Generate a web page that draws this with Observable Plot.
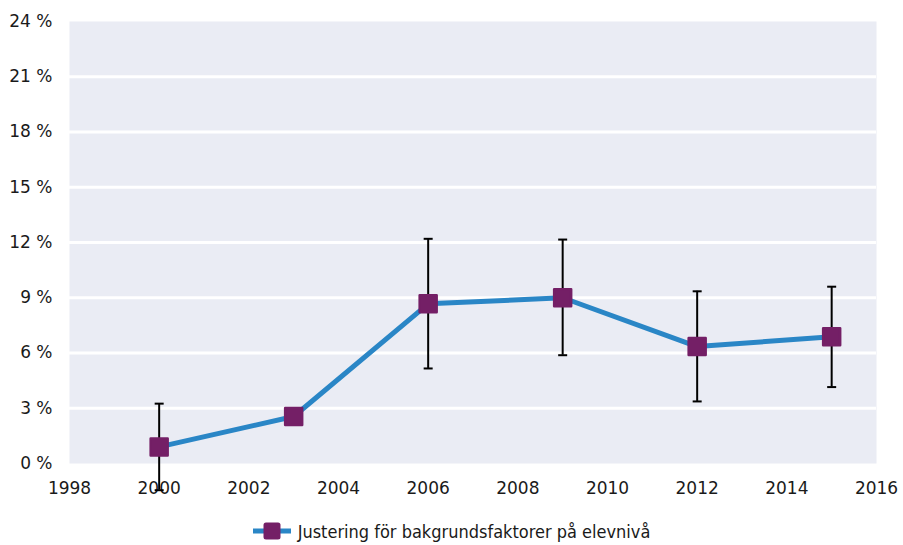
<!DOCTYPE html>
<html>
<head>
<meta charset="utf-8">
<script src="https://cdn.jsdelivr.net/npm/d3@7"></script>
<script src="https://cdn.jsdelivr.net/npm/@observablehq/plot@0.6"></script>
<style>
  html, body { margin: 0; padding: 0; background: #fff; }
  #chart { width: 903px; height: 505px; }
  .legend {
    display: flex; justify-content: center; align-items: center;
    height: 52px; font-family: "DejaVu Sans Condensed", "DejaVu Sans", sans-serif;
    font-size: 18px; color: #1a1a1a;
  }
  .legend svg { margin-right: 7px; }
</style>
</head>
<body>
<div id="chart"></div>
<script>
// Survey years and adjusted estimates (percent)
const years = [2000, 2003, 2006, 2009, 2012, 2015];
const estimate = [0.9, 2.55, 8.67, 9.0, 6.35, 6.88];
// Confidence interval bounds (percent); 2003 has none
const lower = [-1.45, null, 5.16, 5.88, 3.37, 4.15];
const upper = [3.25, null, 12.2, 12.16, 9.35, 9.6];
const yTicks = [0, 3, 6, 9, 12, 15, 18, 21, 24];
const xTicks = [1998, 2000, 2002, 2004, 2006, 2008, 2010, 2012, 2014, 2016];
const seriesName = "Justering för bakgrundsfaktorer på elevnivå";

const lineColor = "#2a86c6";
const markColor = "#741f66";

const rows = years.map((year, i) => ({year, value: estimate[i], lo: lower[i], hi: upper[i]}));
const bars = rows.filter(d => d.lo != null);

// horizontal cap used at each end of an error bar
const capSymbol = {
  draw(context, size) {
    const w = 4.5;
    context.moveTo(-w, 0);
    context.lineTo(w, 0);
  }
};

const chart = Plot.plot({
  width: 903,
  height: 505,
  marginTop: 21,
  marginBottom: 42,
  marginLeft: 69,
  marginRight: 27,
  style: {fontFamily: "'DejaVu Sans', sans-serif", fontSize: "17px", color: "#1a1a1a", background: "#fff"},
  x: {domain: [1998, 2016], ticks: xTicks, tickFormat: d => String(d), tickSize: 0, tickPadding: 18, label: null},
  y: {domain: [0, 24], ticks: yTicks, tickFormat: d => d + " %", tickSize: 0, tickPadding: 17, label: null},
  marks: [
    Plot.frame({fill: "#eaecf4", stroke: null}),
    Plot.ruleY(yTicks.filter(t => t > 0 && t < 24), {stroke: "#fff", strokeWidth: 3}),
    Plot.line(rows, {x: "year", y: "value", stroke: lineColor, strokeWidth: 5}),
    Plot.ruleX(bars, {x: "year", y1: "lo", y2: "hi", stroke: "#000", strokeWidth: 2, clip: false}),
    Plot.dot(bars, {x: "year", y: "lo", symbol: capSymbol, stroke: "#000", strokeWidth: 2, fill: "none", r: 5, clip: false}),
    Plot.dot(bars, {x: "year", y: "hi", symbol: capSymbol, stroke: "#000", strokeWidth: 2, fill: "none", r: 5}),
    Plot.dot(rows, {x: "year", y: "value", symbol: "square", r: 9.6, fill: markColor, stroke: markColor, strokeWidth: 2.5, strokeLinejoin: "round"})
  ]
});
document.getElementById("chart").append(chart);

// legend below the chart
const legend = document.createElement("div");
legend.className = "legend";
const sw = d3.create("svg").attr("width", 38).attr("height", 20);
sw.append("line").attr("x1", 0).attr("x2", 38).attr("y1", 10).attr("y2", 10)
  .attr("stroke", lineColor).attr("stroke-width", 5);
sw.append("rect").attr("x", 10.5).attr("y", 1.5).attr("width", 17).attr("height", 17)
  .attr("rx", 2.5).attr("fill", markColor);
legend.append(sw.node());
const label = document.createElement("span");
label.textContent = seriesName;
legend.append(label);
document.body.append(legend);
</script>
</body>
</html>
